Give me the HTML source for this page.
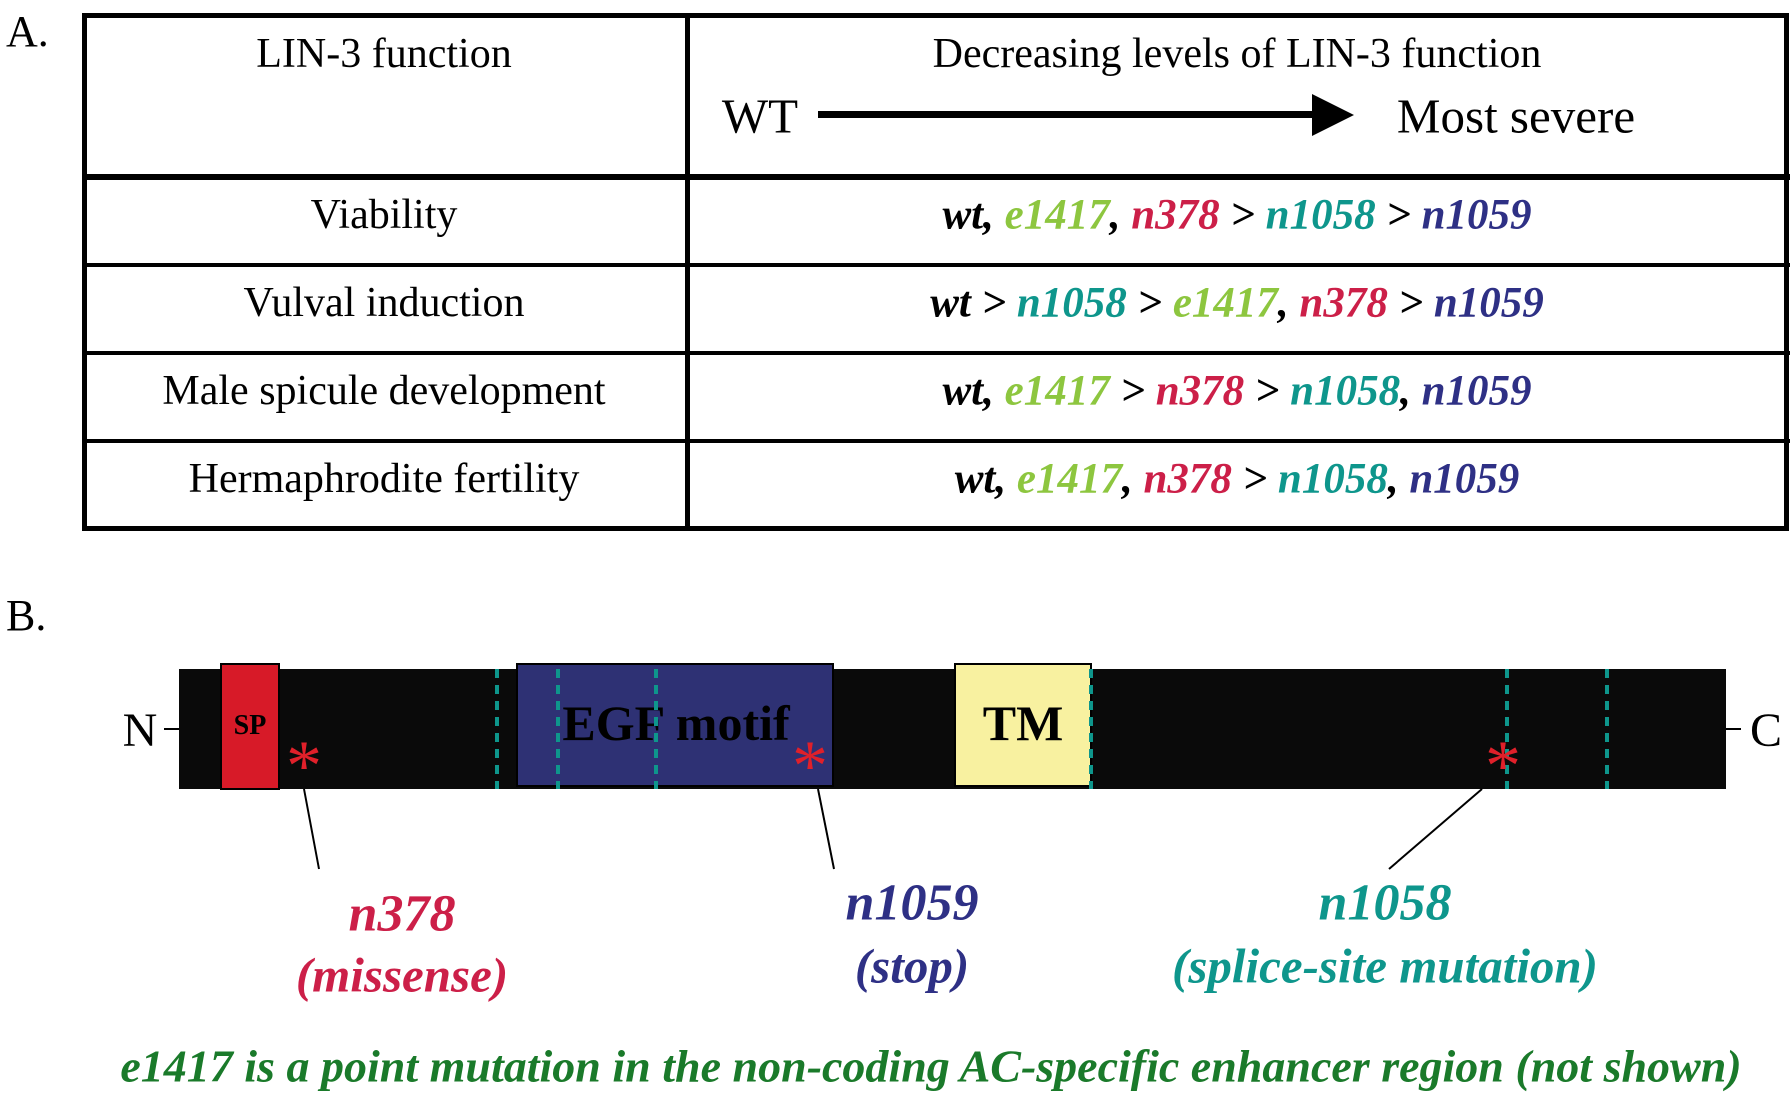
<!DOCTYPE html>
<html><head><meta charset="utf-8"><style>
body{margin:0;width:1792px;height:1096px;background:#fff;position:relative;overflow:hidden;font-family:"Liberation Serif",serif;}
.a{position:absolute;white-space:nowrap;}
.c{transform:translate(-50%,-50%);}
.m{font-weight:bold;font-style:italic;font-size:43px;}
.g{color:#8dc63f}.r{color:#cc1f48}.t{color:#0e968c}.b{color:#2e3085}.k{color:#000}
.ln{position:absolute;background:#000;}
.f{font-size:42px;}
</style></head><body>
<div class="a f" style="left:6px;top:6px;font-size:44px">A.</div>
<div style="position:absolute;left:82px;top:13px;width:1697px;height:508px;border:5px solid #000;"></div>
<div class="ln" style="left:685px;top:15px;width:5px;height:514px"></div>
<div class="ln" style="left:82px;top:174px;width:1708px;height:6px"></div>
<div class="ln" style="left:82px;top:263px;width:1708px;height:4px"></div>
<div class="ln" style="left:82px;top:351px;width:1708px;height:4px"></div>
<div class="ln" style="left:82px;top:439px;width:1708px;height:4px"></div>
<div class="a c f" style="left:384px;top:54px">LIN-3 function</div>
<div class="a c f" style="left:1237px;top:54px">Decreasing levels of LIN-3 function</div>
<div class="a c" style="left:760px;top:116px;font-size:49px">WT</div>
<div class="ln" style="left:818px;top:111px;width:500px;height:7px"></div>
<svg style="position:absolute;left:1312px;top:94px" width="42" height="42"><polygon points="0,0 42,21 0,42" fill="#000"/></svg>
<div class="a c" style="left:1516px;top:116px;font-size:49px">Most severe</div>
<div class="a c f" style="left:384px;top:215px">Viability</div>
<div class="a c f" style="left:384px;top:303px">Vulval induction</div>
<div class="a c f" style="left:384px;top:391px">Male spicule development</div>
<div class="a c f" style="left:384px;top:479px">Hermaphrodite fertility</div>
<div class="a c m" style="left:1237px;top:215px"><span class="k">wt, </span><span class="g">e1417</span><span class="k">, </span><span class="r">n378</span><span class="k"> &gt; </span><span class="t">n1058</span><span class="k"> &gt; </span><span class="b">n1059</span></div>
<div class="a c m" style="left:1237px;top:303px"><span class="k">wt &gt; </span><span class="t">n1058</span><span class="k"> &gt; </span><span class="g">e1417</span><span class="k">, </span><span class="r">n378</span><span class="k"> &gt; </span><span class="b">n1059</span></div>
<div class="a c m" style="left:1237px;top:391px"><span class="k">wt, </span><span class="g">e1417</span><span class="k"> &gt; </span><span class="r">n378</span><span class="k"> &gt; </span><span class="t">n1058</span><span class="k">, </span><span class="b">n1059</span></div>
<div class="a c m" style="left:1237px;top:479px"><span class="k">wt, </span><span class="g">e1417</span><span class="k">, </span><span class="r">n378</span><span class="k"> &gt; </span><span class="t">n1058</span><span class="k">, </span><span class="b">n1059</span></div>

<div class="a" style="left:6px;top:590px;font-size:44px">B.</div>
<svg style="position:absolute;left:0;top:640px" width="1792" height="260">
<rect x="179" y="29" width="1547" height="120" fill="#0a0a0a"/>
<rect x="221" y="24" width="58" height="125" fill="#d71a28" stroke="#000" stroke-width="2"/>
<text x="250" y="94" font-family="Liberation Serif" font-weight="bold" font-size="28" text-anchor="middle">SP</text>
<rect x="517" y="24" width="316" height="122" fill="#2e3174" stroke="#000" stroke-width="2"/>
<text x="676" y="100" font-family="Liberation Serif" font-weight="bold" font-size="50" text-anchor="middle">EGF motif</text>
<rect x="955" y="24" width="136" height="122" fill="#f8f1a0" stroke="#000" stroke-width="2"/>
<text x="1023" y="100" font-family="Liberation Serif" font-weight="bold" font-size="50" text-anchor="middle">TM</text>
<g stroke="#0e968c" stroke-width="4" stroke-dasharray="9,7">
<line x1="497" y1="29" x2="497" y2="149"/><line x1="558" y1="29" x2="558" y2="149"/><line x1="656" y1="29" x2="656" y2="149"/><line x1="1091" y1="29" x2="1091" y2="149"/><line x1="1507" y1="29" x2="1507" y2="149"/><line x1="1607" y1="29" x2="1607" y2="149"/>
</g>
<g stroke="#000" stroke-width="2"><line x1="164" y1="89" x2="179" y2="89"/><line x1="1726" y1="89" x2="1741" y2="89"/>
<line x1="304" y1="149" x2="319" y2="229"/><line x1="818" y1="149" x2="834" y2="229"/><line x1="1482" y1="149" x2="1389" y2="229"/></g>
<g fill="#e0202a" font-family="Liberation Serif" font-size="72" text-anchor="middle"><text x="304" y="150">*</text><text x="810" y="150">*</text><text x="1503" y="150">*</text></g>
<text x="140" y="106" font-family="Liberation Serif" font-size="48" text-anchor="middle">N</text>
<text x="1766" y="106" font-family="Liberation Serif" font-size="48" text-anchor="middle">C</text>
</svg>
<div class="a c m r" style="left:402px;top:914px;font-size:52px">n378</div>
<div class="a c m r" style="left:402px;top:975px;font-size:49px">(missense)</div>
<div class="a c m b" style="left:912px;top:903px;font-size:52px">n1059</div>
<div class="a c m b" style="left:912px;top:966px;font-size:49px">(stop)</div>
<div class="a c m t" style="left:1385px;top:903px;font-size:52px">n1058</div>
<div class="a c m t" style="left:1385px;top:966px;font-size:49px">(splice-site mutation)</div>
<div class="a c m" style="left:931px;top:1066px;font-size:46px;color:#1a7a2a">e1417 is a point mutation in the non-coding AC-specific enhancer region (not shown)</div>
</body></html>
